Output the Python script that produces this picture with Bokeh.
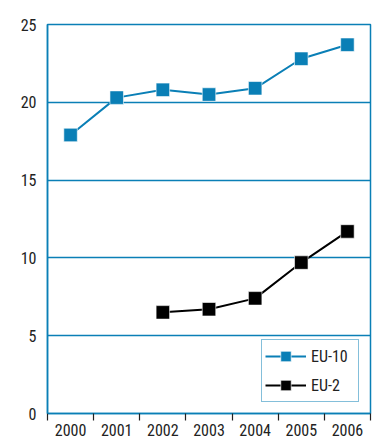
from bokeh.plotting import figure
from bokeh.models import (Range1d, FixedTicker, Legend, LegendItem)
from bokeh.embed import file_html
from bokeh.resources import INLINE

years = ["2000", "2001", "2002", "2003", "2004", "2005", "2006"]
eu10 = [17.9, 20.3, 20.8, 20.5, 20.9, 22.8, 23.7]
eu2_years = ["2002", "2003", "2004", "2005", "2006"]
eu2 = [6.5, 6.7, 7.4, 9.7, 11.7]
y_ticks = [0, 5, 10, 15, 20, 25]

BLUE = "#0a7fb6"
FONT = "Roboto Condensed, DejaVu Sans Condensed, Liberation Sans Narrow, Roboto, sans-serif"

# category slots: each year occupies one unit, centred at index + 0.5
pos = {y: i + 0.5 for i, y in enumerate(years)}
eu10_x = [pos[y] for y in years]
eu2_x = [pos[y] for y in eu2_years]

p = figure(width=384, height=438, x_range=Range1d(0, len(years)),
           y_range=Range1d(0, 25),
           output_backend="svg", toolbar_location=None,
           min_border_left=47, min_border_top=24, min_border_right=14,
           min_border_bottom=10)

p.outline_line_color = BLUE
p.outline_line_width = 1.5
p.background_fill_color = "white"
p.border_fill_color = "white"

# y axis
p.yaxis.ticker = FixedTicker(ticks=y_ticks)
p.yaxis.axis_line_color = BLUE
p.yaxis.axis_line_width = 1.5
p.yaxis.major_tick_line_color = None
p.yaxis.minor_tick_line_color = None
p.yaxis.major_label_text_font = FONT
p.yaxis.major_label_text_font_size = "16px"
p.yaxis.major_label_text_color = "#222222"
p.yaxis.major_label_standoff = 5
p.ygrid.ticker = FixedTicker(ticks=y_ticks)
p.ygrid.grid_line_color = BLUE
p.ygrid.grid_line_width = 1.5
p.xgrid.grid_line_color = None

# x axis: labels at category centres, tick marks at category boundaries
centres = [pos[y] for y in years]
bounds = list(range(len(years) + 1))
xa = p.xaxis[0]
xa.ticker = FixedTicker(ticks=centres, minor_ticks=bounds)
xa.major_label_overrides = {c: y for c, y in zip(centres, years)}
xa.axis_line_color = BLUE
xa.axis_line_width = 1.5
xa.major_tick_line_color = None
xa.major_tick_out = 0
xa.major_tick_in = 0
xa.minor_tick_line_color = "#222222"
xa.minor_tick_line_width = 1.2
xa.minor_tick_out = 7
xa.minor_tick_in = 0
xa.major_label_text_font = FONT
xa.major_label_text_font_size = "16px"
xa.major_label_text_color = "#222222"
xa.major_label_standoff = 3

l1 = p.line(eu10_x, eu10, line_color=BLUE, line_width=2)
s1 = p.scatter(eu10_x, eu10, marker="square", size=13.5, fill_color=BLUE,
               line_color="white", line_width=0.6)
l2 = p.line(eu2_x, eu2, line_color="black", line_width=2)
s2 = p.scatter(eu2_x, eu2, marker="square", size=13.5, fill_color="black",
               line_color="white", line_width=0.6)

legend = Legend(items=[LegendItem(label="EU-10", renderers=[l1, s1]),
                       LegendItem(label="EU-2", renderers=[l2, s2])],
                location="bottom_right")
legend.border_line_color = BLUE
legend.border_line_width = 1.5
legend.label_text_font = FONT
legend.label_text_font_size = "16px"
legend.label_text_color = "#222222"
legend.glyph_width = 41
legend.glyph_height = 26
legend.label_width = 44
legend.spacing = 3
legend.padding = 3
legend.margin = 11
legend.label_standoff = 5
p.add_layout(legend)

open("out.html", "w").write(file_html(p, INLINE))
